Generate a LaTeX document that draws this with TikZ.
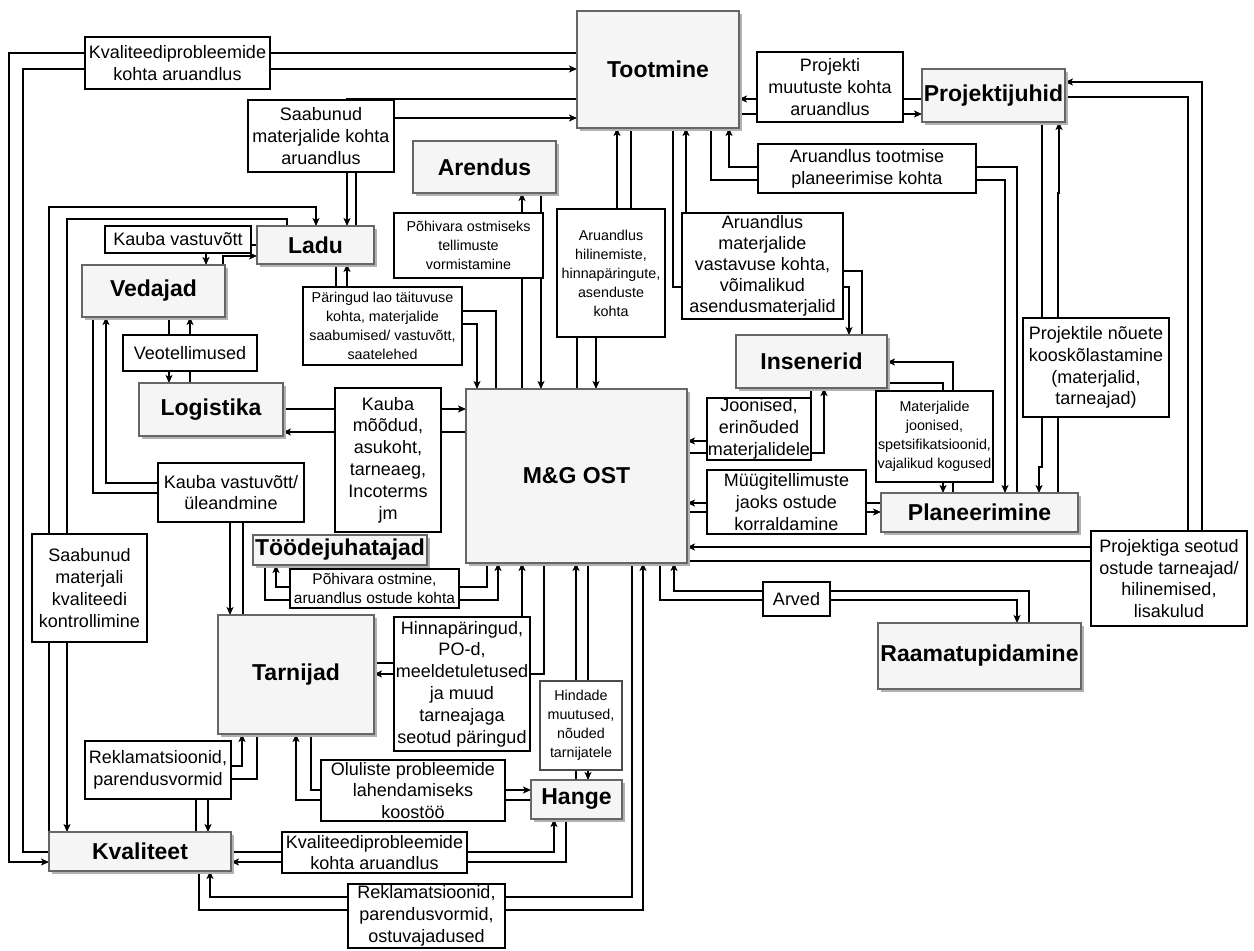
\documentclass[tikz,border=0pt]{standalone}
\usepackage{fontspec}
\setmainfont{Liberation Sans}
\usetikzlibrary{arrows.meta,shadows}
\definecolor{boxfill}{HTML}{F5F5F5}
\definecolor{boxline}{HTML}{666666}
\newcommand\fN{\fontsize{18}{21.8}\selectfont}
\newcommand\fNt{\fontsize{18}{21}\selectfont}
\newcommand\fS{\fontsize{14.3}{19}\selectfont}
\newcommand\fM{\fontsize{15.5}{19}\selectfont}
\newcommand\fB{\fontsize{23}{27}\selectfont\bfseries}
\pgfdeclarelayer{bg}
\pgfsetlayers{bg,main}
\begin{document}
\begin{tikzpicture}[x=1pt,y=-1pt,
  mainbox/.style={draw=boxline, fill=boxfill, line width=1.2pt, inner sep=0pt, outer sep=0pt, font=\fB,
    drop shadow={fill=black!30, opacity=1, shadow xshift=3pt, shadow yshift=-3pt}},
  lbl/.style={draw=black, fill=white, line width=1.2pt, inner sep=0pt, outer sep=0pt, align=center, font=\fN},
  conn/.style={line width=1.2pt, -{Stealth[length=8pt,width=7pt,inset=2pt]}}
]
\useasboundingbox (0,0) rectangle (1254,951);
% main nodes
\node[mainbox, minimum width=162pt, minimum height=117pt] (tootmine) at (658,69.5) {Tootmine};
\node[mainbox, minimum width=143pt, minimum height=53pt] (projektijuhid) at (993.5,95.5) {Projektijuhid};
\node[mainbox, minimum width=143pt, minimum height=52pt] (arendus) at (484.5,167) {Arendus};
\node[mainbox, minimum width=117pt, minimum height=38pt] (ladu) at (315.5,245) {Ladu};
\node[mainbox, minimum width=143pt, minimum height=52pt] (vedajad) at (153.5,291) {Vedajad};
\node[mainbox, minimum width=144pt, minimum height=53pt] (logistika) at (211,409.5) {Logistika};
\node[mainbox, minimum width=151pt, minimum height=53pt] (insenerid) at (811.5,361.5) {Insenerid};
\node[mainbox, minimum width=221pt, minimum height=174pt] (mgost) at (576.5,476) {M\&G OST};
\node[mainbox, minimum width=197pt, minimum height=39pt] (planeerimine) at (979.5,512.5) {Planeerimine};
\node[mainbox, minimum width=174pt, minimum height=30pt] (toodejuhatajad) at (340,550) {Töödejuhatajad};
\node[mainbox, minimum width=156pt, minimum height=119pt] (tarnijad) at (296,674.5) {Tarnijad};
\node[mainbox, minimum width=91pt, minimum height=39pt] (hange) at (576.5,799.5) {Hange};
\node[mainbox, minimum width=182pt, minimum height=39pt] (kvaliteet) at (140,851.5) {Kvaliteet};
\node[mainbox, minimum width=203pt, minimum height=66pt] (raamatupidamine) at (979.5,656) {Raamatupidamine};
% label boxes
\node[lbl, minimum width=185pt, minimum height=52pt] (lKvalTop) at (177.5,63) {Kvaliteediprobleemide\\kohta aruandlus};
\node[lbl, minimum width=146pt, minimum height=72pt] (lSaab) at (321,136) {Saabunud\\materjalide kohta\\aruandlus};
\node[lbl, minimum width=146pt, minimum height=27pt] (lKaubaV) at (178,239.5) {Kauba vastuvõtt};
\node[lbl, minimum width=134pt, minimum height=36pt] (lVeot) at (190,353) {Veotellimused};
\node[lbl, font=\fS, minimum width=149pt, minimum height=65pt] (lPohiv) at (468.5,245.5) {Põhivara ostmiseks\\tellimuste\\vormistamine};
\node[lbl, font=\fS, minimum width=159pt, minimum height=78pt] (lPar) at (382.5,326) {Päringud lao täituvuse\\kohta, materjalide\\saabumised/ vastuvõtt,\\saatelehed};
\node[lbl, font=\fS, minimum width=108pt, minimum height=128pt] (lAruH) at (611,273) {Aruandlus\\hilinemiste,\\hinnapäringute,\\asenduste\\kohta};
\node[lbl, font=\fNt, minimum width=161pt, minimum height=106pt] (lAruM) at (762.5,266) {Aruandlus\\materjalide\\vastavuse kohta,\\võimalikud\\asendusmaterjalid};
\node[lbl, minimum width=146pt, minimum height=70pt] (lProjM) at (830,87) {Projekti\\muutuste kohta\\aruandlus};
\node[lbl, minimum width=218pt, minimum height=49pt] (lAruT) at (867,168.5) {Aruandlus tootmise\\planeerimise kohta};
\node[lbl, minimum width=146pt, minimum height=99pt] (lProjN) at (1096,367.5) {Projektile nõuete\\kooskõlastamine\\(materjalid,\\tarneajad)};
\node[lbl, font=\fS, minimum width=117pt, minimum height=91pt] (lMatJ) at (934.5,436.5) {Materjalide\\joonised,\\spetsifikatsioonid,\\vajalikud kogused};
\node[lbl, minimum width=104pt, minimum height=62pt] (lJoon) at (759,429) {Joonised,\\erinõuded\\materjalidele};
\node[lbl, minimum width=159pt, minimum height=64pt] (lMuug) at (786.5,502) {Müügitellimuste\\jaoks ostude\\korraldamine};
\node[lbl, minimum width=156pt, minimum height=95pt] (lProjS) at (1169,578.5) {Projektiga seotud\\ostude tarneajad/\\hilinemised,\\lisakulud};
\node[lbl, minimum width=67pt, minimum height=34pt] (lArved) at (796.5,599) {Arved};
\node[lbl, minimum width=106pt, minimum height=144pt] (lKaubaM) at (388,460) {Kauba\\mõõdud,\\asukoht,\\tarneaeg,\\Incoterms\\jm};
\node[lbl, minimum width=146pt, minimum height=59pt] (lKaubaU) at (231,492.5) {Kauba vastuvõtt/\\üleandmine};
\node[lbl, minimum width=115pt, minimum height=108pt] (lSaabK) at (89.5,588) {Saabunud\\materjali\\kvaliteedi\\kontrollimine};
\node[lbl, font=\fM, minimum width=169pt, minimum height=39pt] (lPohivO) at (374.5,588.5) {Põhivara ostmine,\\aruandlus ostude kohta};
\node[lbl, minimum width=136pt, minimum height=134pt] (lHinnap) at (462,684) {Hinnapäringud,\\PO-d,\\meeldetuletused\\ja muud\\tarneajaga\\seotud päringud};
\node[lbl, draw=black!70, font=\fS, minimum width=82pt, minimum height=89pt] (lHind) at (581,725.5) {Hindade\\muutused,\\nõuded\\tarnijatele};
\node[lbl, minimum width=146pt, minimum height=58pt] (lReklL) at (158,770) {Reklamatsioonid,\\parendusvormid};
\node[lbl, minimum width=184pt, minimum height=61pt] (lOlul) at (413,790.5) {Oluliste probleemide\\lahendamiseks\\koostöö};
\node[lbl, minimum width=185pt, minimum height=41pt] (lKvalB) at (374.5,852.5) {Kvaliteediprobleemide\\kohta aruandlus};
\node[lbl, minimum width=157pt, minimum height=64pt] (lReklB) at (426.5,916) {Reklamatsioonid,\\parendusvormid,\\ostuvajadused};

\begin{pgfonlayer}{bg}
\fill[white] (0,0) rectangle (1254,951);
% Tootmine <-> Kvaliteet
\draw[conn] (tootmine.west|-0,53) -- (9,53) |- (kvaliteet.west|-0,862);
\draw[conn] (kvaliteet.west|-0,852) -- (23,852) |- (tootmine.west|-0,69);
% Tootmine <-> Ladu
\draw[conn] (tootmine.west|-0,99) -| (ladu.north-|347,0);
\draw[conn] (ladu.north-|356,0) |- (tootmine.west|-0,118);
% Kvaliteet <-> Ladu
\draw[conn] (kvaliteet.north-|49,0) |- (316,207) -- (ladu.north-|316,0);
\draw[conn] (ladu.north-|287,0) |- (67,219) -- (kvaliteet.north-|67,0);
% Ladu <-> Vedajad
\draw[conn] (ladu.west|-0,245) -| (vedajad.north-|206,0);
\draw[conn] (vedajad.north-|223,0) |- (ladu.west|-0,256);
% Vedajad <-> Logistika
\draw[conn] (vedajad.south-|169,0) -- (logistika.north-|169,0);
\draw[conn] (logistika.north-|190,0) -- (vedajad.south-|190,0);
% Vedajad <-> Tarnijad
\draw[conn] (vedajad.south-|93,0) |- (230,493) -- (tarnijad.north-|230,0);
\draw[conn] (tarnijad.north-|243,0) |- (106,483) -- (vedajad.south-|106,0);
% Logistika <-> M&G
\draw[conn] (logistika.east|-0,409) -- (mgost.west|-0,409);
\draw[conn] (mgost.west|-0,432) -- (logistika.east|-0,432);
% Ladu <-> M&G
\draw[conn] (ladu.south-|336,0) |- (477,324) -- (mgost.north-|477,0);
\draw[conn] (mgost.north-|496,0) |- (347,311) -- (ladu.south-|347,0);
% Arendus <-> M&G
\draw[conn] (arendus.south-|541,0) -- (mgost.north-|541,0);
\draw[conn] (mgost.north-|522,0) -- (arendus.south-|522,0);
% M&G <-> Tootmine
\draw[conn] (mgost.north-|577,0) |- (617,273) -- (tootmine.south-|617,0);
\draw[conn] (tootmine.south-|631,0) |- (596,280) -- (mgost.north-|596,0);
% Tootmine <-> Insenerid
\draw[conn] (tootmine.south-|673,0) |- (849,287) -- (insenerid.north-|849,0);
\draw[conn] (insenerid.north-|862,0) |- (686,271) -- (tootmine.south-|686,0);
% Projektijuhid <-> Tootmine
\draw[conn] (projektijuhid.west|-0,99) -- (tootmine.east|-0,99);
\draw[conn] (tootmine.east|-0,114) -- (projektijuhid.west|-0,114);
% Planeerimine <-> Tootmine
\draw[conn] (planeerimine.north-|1017,0) |- (729,167) -- (tootmine.south-|729,0);
\draw[conn] (tootmine.south-|711,0) |- (1005,180) -- (planeerimine.north-|1005,0);
% Projektijuhid <-> Planeerimine
\draw[conn] (projektijuhid.south-|1042,0) -- (1042,467) -- (1039,467) -- (planeerimine.north-|1039,0);
\draw[conn] (planeerimine.north-|1058,0) -- (1058,193) -- (1059,193) -- (projektijuhid.south-|1059,0);
% Projektijuhid <-> M&G
\draw[conn] (projektijuhid.east|-0,97) -| (1188,547) -- (mgost.east|-0,547);
\draw[conn] (mgost.east|-0,561) -| (1202,82) -- (projektijuhid.east|-0,82);
% Insenerid <-> Planeerimine
\draw[conn] (insenerid.east|-0,383) -| (planeerimine.north-|943,0);
\draw[conn] (planeerimine.north-|953,0) |- (insenerid.east|-0,362);
% Insenerid <-> M&G
\draw[conn] (insenerid.south-|811,0) |- (mgost.east|-0,441);
\draw[conn] (mgost.east|-0,453) -| (insenerid.south-|824,0);
% Planeerimine <-> M&G
\draw[conn] (planeerimine.west|-0,503) -- (mgost.east|-0,503);
\draw[conn] (mgost.east|-0,512) -- (planeerimine.west|-0,512);
% M&G <-> Raamatupidamine
\draw[conn] (mgost.south-|660,0) |- (1017,600) -- (raamatupidamine.north-|1017,0);
\draw[conn] (raamatupidamine.north-|1029,0) |- (674,591) -- (mgost.south-|674,0);
% M&G <-> Toodejuhatajad
\draw[conn] (mgost.south-|487,0) |- (276,587) -- (toodejuhatajad.south-|276,0);
\draw[conn] (toodejuhatajad.south-|265,0) |- (498,600) -- (mgost.south-|498,0);
% Tarnijad <-> M&G
\draw[conn] (tarnijad.east|-0,663) -| (mgost.south-|522,0);
\draw[conn] (mgost.south-|544,0) |- (tarnijad.east|-0,674);
% Hange <-> M&G
\draw[conn] (hange.north-|576,0) -- (mgost.south-|576,0);
\draw[conn] (mgost.south-|588,0) -- (hange.north-|588,0);
% Tarnijad <-> Hange
\draw[conn] (tarnijad.south-|311,0) |- (hange.west|-0,790);
\draw[conn] (hange.west|-0,800) -| (tarnijad.south-|296,0);
% Kvaliteet <-> Tarnijad
\draw[conn] (kvaliteet.north-|196,0) |- (242,766) -- (tarnijad.south-|242,0);
\draw[conn] (tarnijad.south-|257,0) |- (208,779) -- (kvaliteet.north-|208,0);
% Kvaliteet <-> Hange
\draw[conn] (kvaliteet.east|-0,852) -| (hange.south-|554,0);
\draw[conn] (hange.south-|566,0) |- (kvaliteet.east|-0,862);
% M&G <-> Kvaliteet
\draw[conn] (mgost.south-|632,0) |- (210,897) -- (kvaliteet.south-|210,0);
\draw[conn] (kvaliteet.south-|199,0) |- (643,910) -- (mgost.south-|643,0);
\end{pgfonlayer}
\end{tikzpicture}
\end{document}
